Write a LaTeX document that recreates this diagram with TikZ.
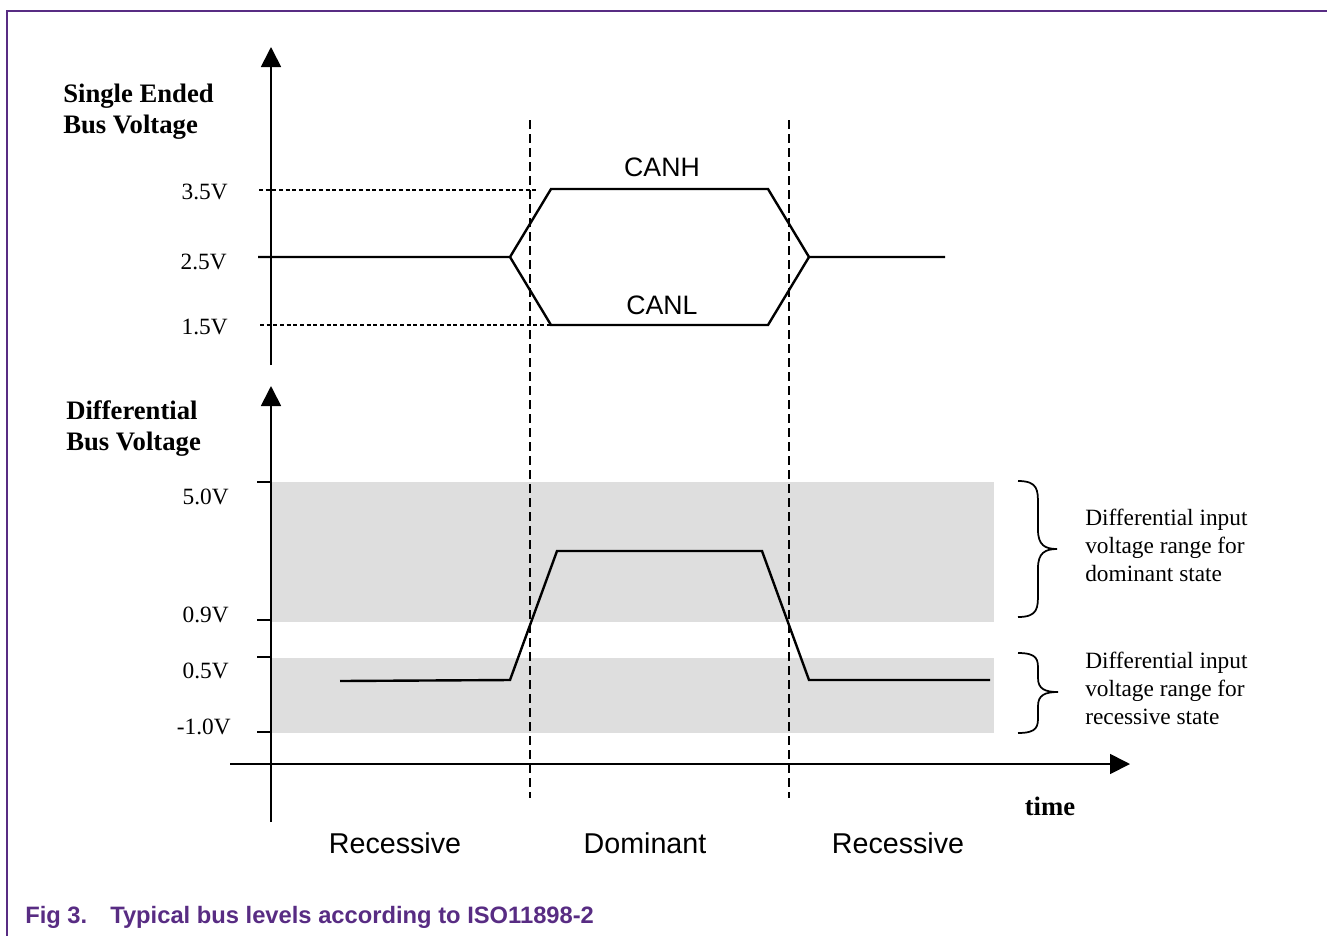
\documentclass[tikz,border=0pt]{standalone}
\usepackage{fontspec}
\setmainfont{Liberation Serif}
\newfontfamily\arialfont{Liberation Sans}
\usetikzlibrary{arrows.meta}
\definecolor{band}{HTML}{DEDEDE}
\definecolor{nxppurple}{HTML}{582C83}
\tikzset{
	axis/.style = {line width=1.3pt},
	axisarrow/.style = {axis, -{Triangle[length=15pt,width=15pt]}},
	signal/.style = {line width=1.8pt, line join=miter},
	level/.style = {line width=0.9pt, dash pattern=on 3pt off 2pt},
	edgeline/.style = {line width=1pt, dash pattern=on 6.5pt off 4pt},
	volt/.style = {anchor=east, inner sep=0pt, font=\fontsize{17.5}{21}\selectfont},
	heading/.style = {anchor=west, inner sep=0pt, align=left, font=\fontsize{20}{23.25}\selectfont\bfseries},
	wire/.style = {inner sep=0pt, font=\arialfont\fontsize{20}{24}\selectfont},
	state/.style = {inner sep=0pt, font=\arialfont\fontsize{21.5}{26}\selectfont},
	note/.style = {anchor=west, inner sep=0pt, align=left, font=\fontsize{17.5}{21}\selectfont},
}
\begin{document}
\begin{tikzpicture}[x = .75pt, y = -.75pt]
	\useasboundingbox (0,0) rectangle (1327,936);
	% frame
	\draw[nxppurple, line width=1.1pt] (1327,11) -- (7,11) -- (7,936);
	% ranges
	\fill[band] (271,482) rectangle (994,622);
	\fill[band] (271,658) rectangle (994,733);
	% state borders
	\draw[edgeline] (530,120) -- (530,798);
	\draw[edgeline] (789,120) -- (789,798);
	% single ended levels
	\draw[level] (259,190) -- (538,190);
	\draw[level] (260,325) -- (551,325);
	\draw[signal] (258,257) -- (510,257) -- (551,189) -- (768,189) -- (809,257) -- (945,257);
	\draw[signal] (510,257) -- (551,325) -- (768,325) -- (809,257);
	\node[wire] (canh) at (662,167) {CANH};
	\node[wire] (canl) at (662,305) {CANL};
	\node[volt] (v35) at (228,192) {3.5V};
	\node[volt] (v25) at (227,262) {2.5V};
	\node[volt] (v15) at (228,327) {1.5V};
	\node[heading] (sehead) at (63,112) {Single Ended\\Bus Voltage};
	\draw[axisarrow] (271,365) -- (271,47);
	% differential
	\draw[signal] (340,681) -- (510,680) -- (557,551) -- (762,551) -- (809,680) -- (990,680);
	\draw[axisarrow] (271,822) -- (271,386);
	\draw[axisarrow] (230,764) -- (1130,764);
	\foreach \y in {482,620,657,732}
		\draw[axis] (257,\y) -- (271,\y);
	\node[volt] (v50) at (229,497) {5.0V};
	\node[volt] (v09) at (229,615) {0.9V};
	\node[volt] (v05) at (229,671) {0.5V};
	\node[volt] (vm10) at (231,727) {-1.0V};
	\node[heading] (dfhead) at (66,429) {Differential\\Bus Voltage};
	\node[heading, anchor=center] (time) at (1050,806) {time};
	% braces
	\draw[line width=1.3pt] (1018,481) .. controls (1038,481) and (1038,490) .. (1038,505)
		-- (1038,530) .. controls (1038,545) and (1045,549) .. (1057,549)
		.. controls (1045,549) and (1038,553) .. (1038,568)
		-- (1038,593) .. controls (1038,608) and (1038,617) .. (1018,617);
	\draw[line width=1.3pt] (1018,653) .. controls (1038,653) and (1038,660) .. (1038,670)
		-- (1038,678) .. controls (1038,689) and (1045,692) .. (1058,692)
		.. controls (1045,692) and (1038,695) .. (1038,706)
		-- (1038,716) .. controls (1038,726) and (1038,733) .. (1018,733);
	\node[note] (domtext) at (1085,545) {Differential input\\voltage range for\\dominant state};
	\node[note] (rectext) at (1085,688) {Differential input\\voltage range for\\recessive state};
	% states
	\node[state] (rec1) at (395,843) {Recessive};
	\node[state] (dom) at (645,843) {Dominant};
	\node[state] (rec2) at (898,843) {Recessive};
	% caption
	\node[anchor=west, inner sep=0pt, text=nxppurple, font=\arialfont\bfseries\fontsize{17.8}{21}\selectfont] (caption) at (25,917) {\makebox[63.75pt][l]{Fig 3.}Typical bus levels according to ISO11898-2};
\end{tikzpicture}
\end{document}
